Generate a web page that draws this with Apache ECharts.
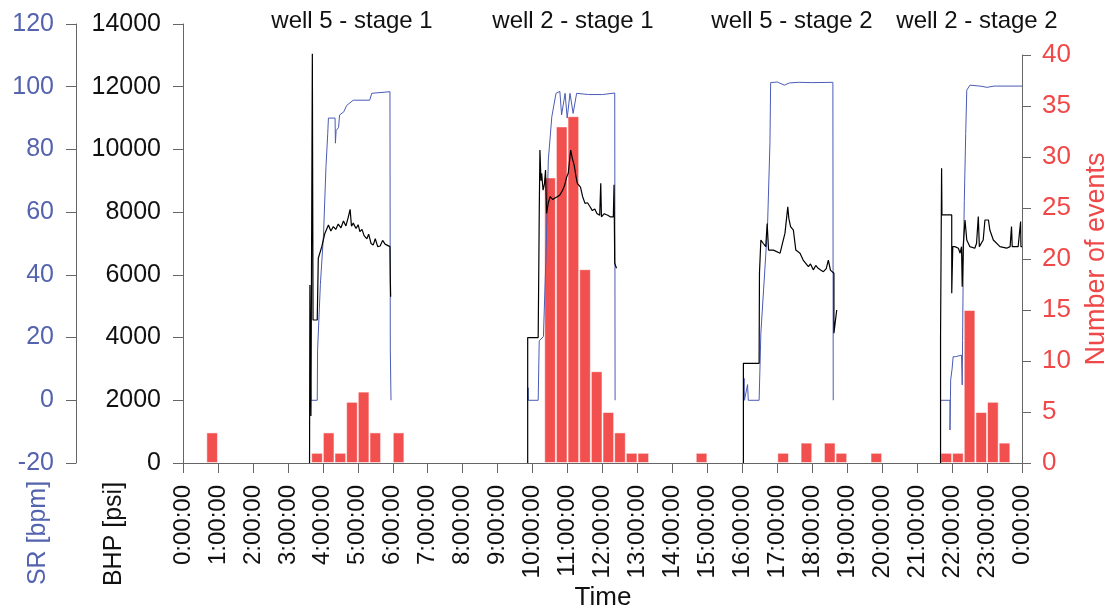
<!DOCTYPE html>
<html>
<head>
<meta charset="utf-8">
<script src="https://cdn.jsdelivr.net/npm/echarts@6.0.0/dist/echarts.min.js"></script>
<style>
  html, body, #main { width: 100%; height: 100%; margin: 0; background: #fff; }
</style>
</head>
<body>
<div id="main"></div>
<script>
// times are hours since 0:00:00
var stageNames = ['well 5 - stage 1', 'well 2 - stage 1', 'well 5 - stage 2', 'well 2 - stage 2'];
var stageTitleX = [352, 573, 792, 977];

// events histogram, 20 min bins, start of bin in minutes
var binStartMin = [40, 220, 240, 260, 280, 300, 320, 360,
  620, 640, 660, 680, 700, 720, 740, 760, 780,
  880, 1020, 1060, 1100, 1120, 1180,
  1300, 1320, 1340, 1360, 1380, 1400];
var eventCounts = [3, 1, 3, 1, 6, 7, 3, 3,
  28, 33, 34, 19, 9, 5, 3, 1, 1,
  1, 1, 2, 2, 1, 1,
  1, 1, 15, 5, 6, 2];

// bottom hole pressure [psi]
var bhpW5S1 = [[3.62,0],[3.63,5680],[3.65,5680],[3.66,1500],[3.69,1500],[3.70,13050],[3.72,4560],[3.84,4560],[3.87,6530],[3.97,6900],[4.06,7330],[4.16,7590],[4.23,7400],[4.30,7540],[4.37,7450],[4.44,7620],[4.52,7500],[4.59,7720],[4.66,7560],[4.73,7850],[4.78,8090],[4.82,7550],[4.87,7650],[4.95,7480],[5.01,7600],[5.06,7380],[5.12,7450],[5.18,7250],[5.26,7150],[5.31,7300],[5.38,7000],[5.44,6950],[5.50,7150],[5.57,6900],[5.64,6920],[5.71,7100],[5.78,6980],[5.83,7000],[5.92,6900],[5.93,5900],[5.94,5300]];
var bhpW2S1 = [[9.86,0],[9.86,4000],[10.16,4000],[10.18,6500],[10.19,7960],[10.21,9980],[10.24,9000],[10.26,9240],[10.30,8700],[10.34,8900],[10.37,9340],[10.40,7960],[10.45,8300],[10.50,8490],[10.58,8400],[10.64,8450],[10.72,8500],[10.78,8550],[10.86,8700],[10.92,8870],[10.97,9100],[11.02,9240],[11.09,9980],[11.14,9700],[11.19,9500],[11.24,9150],[11.28,8920],[11.33,8950],[11.37,8800],[11.43,8500],[11.50,8280],[11.57,8300],[11.64,8180],[11.71,8050],[11.78,8100],[11.84,7960],[11.88,7960],[11.92,7900],[11.95,8920],[11.97,7850],[12.05,7950],[12.15,7900],[12.22,7850],[12.31,7850],[12.33,8870],[12.35,6370],[12.40,6210]];
var bhpW5S2 = [[16.03,0],[16.03,3180],[16.48,3180],[16.49,6050],[16.53,7110],[16.60,7000],[16.67,6900],[16.71,7640],[16.75,6790],[16.89,6790],[17.08,6690],[17.22,7330],[17.30,8170],[17.33,7800],[17.38,7540],[17.46,7430],[17.53,6790],[17.65,6690],[17.74,6470],[17.89,6260],[17.95,6350],[18.03,6160],[18.10,6300],[18.17,6210],[18.25,6150],[18.32,6100],[18.40,6200],[18.46,6470],[18.52,6150],[18.56,6100],[18.62,6050],[18.62,4140],[18.70,4880]];
var bhpW2S2 = [[21.67,0],[21.67,4030],[21.69,4030],[21.70,9400],[21.71,7910],[21.99,7910],[21.99,5410],[22.02,6900],[22.08,6900],[22.18,6850],[22.23,6690],[22.27,6900],[22.29,5620],[22.32,6950],[22.37,7750],[22.42,7110],[22.51,6900],[22.65,6850],[22.70,7010],[22.75,7860],[22.78,6900],[22.89,7110],[22.94,7750],[23.04,7750],[23.08,7430],[23.18,7110],[23.37,6900],[23.56,6850],[23.66,6900],[23.70,7540],[23.72,6900],[23.89,6900],[23.96,7700],[23.97,6900],[24.0,6900]];

// slurry rate [bpm]
var srW5S1 = [[3.64,10],[3.66,0],[3.84,0],[3.85,16],[3.93,37],[4.02,53],[4.09,74.5],[4.14,85],[4.16,90],[4.35,90],[4.36,82],[4.38,86],[4.45,87],[4.48,91],[4.60,92],[4.68,94],[4.87,95.7],[5.34,95.7],[5.40,97.9],[5.92,98.4],[5.93,16],[5.95,0]];
var srW2S1 = [[9.86,0],[9.87,4],[9.88,0],[10.16,0],[10.19,19],[10.31,20.3],[10.38,44.7],[10.45,76.6],[10.55,90.4],[10.67,97.9],[10.78,98.5],[10.83,91],[10.93,97.9],[10.99,90],[11.07,97.9],[11.16,91.5],[11.26,97.9],[11.60,97.5],[12.00,97.5],[12.35,98],[12.36,0]];
var srW5S2 = [[16.03,0],[16.05,7],[16.06,0],[16.15,5],[16.17,0],[16.48,0],[16.53,21.4],[16.72,55.3],[16.79,82],[16.81,101.3],[17.00,101.5],[17.20,100.5],[17.35,101.2],[17.60,101.4],[18.00,101.3],[18.59,101.4],[18.60,0]];
var srW2S2 = [[21.67,0],[21.94,0],[21.94,-9.5],[21.96,6.5],[22.00,10],[22.03,13.9],[22.10,13.9],[22.27,14.4],[22.29,4.9],[22.30,19],[22.32,42.6],[22.35,63.8],[22.39,85.1],[22.42,98.9],[22.51,100.5],[22.80,100.2],[23.00,99.8],[23.20,100.2],[24.00,100.2]];

var FONT = 'Liberation Sans, Arial, sans-serif';
var BLUE_TXT = '#5463ad';
var BLUE_LINE = '#4a5bb5';
var RED = '#f04848';
var AXIS = '#666';

var chart = echarts.init(document.getElementById('main'));

var gridLeft = 183, gridRight = 87;
var barW = (chart.getWidth() - gridLeft - gridRight) / 24 / 3;

var series = [];
series.push({
  type: 'bar',
  xAxisIndex: 1,
  yAxisIndex: 2,
  barWidth: barW,
  z: 1,
  itemStyle: { color: '#f24f4f', borderColor: 'rgba(255,255,255,0.55)', borderWidth: 1 },
  data: binStartMin.map(function (m, i) { return [(m + 10) / 60, eventCounts[i]]; })
});
[srW5S1, srW2S1, srW5S2, srW2S2].forEach(function (d) {
  series.push({
    type: 'line', xAxisIndex: 0, yAxisIndex: 0, data: d, symbol: 'none', z: 3,
    lineStyle: { color: BLUE_LINE, width: 1 }
  });
});
[bhpW5S1, bhpW2S1, bhpW5S2, bhpW2S2].forEach(function (d) {
  series.push({
    type: 'line', xAxisIndex: 0, yAxisIndex: 1, data: d, symbol: 'none', z: 4,
    lineStyle: { color: '#000', width: 1.2 }
  });
});

var graphics = stageNames.map(function (s, i) {
  return {
    type: 'text', x: stageTitleX[i], y: 21,
    style: { text: s, font: '24px ' + FONT, fill: '#111', align: 'center', verticalAlign: 'middle' }
  };
});
graphics.push({
  type: 'text', x: 38, y: 533, rotation: Math.PI / 2,
  style: { text: 'SR [bpm]', font: '25px ' + FONT, fill: BLUE_TXT, align: 'center', verticalAlign: 'middle' }
});
graphics.push({
  type: 'text', x: 114, y: 534, rotation: Math.PI / 2,
  style: { text: 'BHP [psi]', font: '25px ' + FONT, fill: '#111', align: 'center', verticalAlign: 'middle' }
});
graphics.push({
  type: 'text', x: 1097, y: 259, rotation: Math.PI / 2,
  style: { text: 'Number of events', font: '27px ' + FONT, fill: RED, align: 'center', verticalAlign: 'middle' }
});
graphics.push({
  type: 'text', x: 603, y: 598,
  style: { text: 'Time', font: '26px ' + FONT, fill: '#111', align: 'center', verticalAlign: 'middle' }
});

function plain(v) { return String(v); }

var option = {
  animation: false,
  textStyle: { fontFamily: FONT },
  grid: [
    { left: gridLeft, right: gridRight, top: 24, bottom: 148, outerBoundsMode: 'none', containLabel: false },
    { left: gridLeft, right: gridRight, top: 55, bottom: 148, outerBoundsMode: 'none', containLabel: false }
  ],
  xAxis: [{
    type: 'value', gridIndex: 0, min: 0, max: 24, interval: 1,
    axisLine: { onZero: false, lineStyle: { color: AXIS } },
    axisTick: { show: true, length: 10, lineStyle: { color: AXIS } },
    splitLine: { show: false },
    axisLabel: {
      rotate: 90, margin: 22, fontSize: 24, color: '#111',
      formatter: function (v) { return (v % 24) + ':00:00'; }
    }
  }, {
    type: 'value', gridIndex: 1, min: 0, max: 24, show: false,
    axisLine: { onZero: false }
  }],
  yAxis: [{
    type: 'value', gridIndex: 0, position: 'left', offset: 107,
    min: -20, max: 120, interval: 20,
    axisLine: { show: true, onZero: false, lineStyle: { color: AXIS } },
    axisTick: { show: true, length: 10, lineStyle: { color: AXIS } },
    splitLine: { show: false },
    axisLabel: { fontSize: 25, color: BLUE_TXT, margin: 22, formatter: plain }
  }, {
    type: 'value', gridIndex: 0, position: 'left',
    min: 0, max: 14000, interval: 2000,
    axisLine: { show: true, onZero: false, lineStyle: { color: AXIS } },
    axisTick: { show: true, length: 10, lineStyle: { color: AXIS } },
    splitLine: { show: false },
    axisLabel: { fontSize: 25, color: '#111', margin: 22, formatter: plain }
  }, {
    type: 'value', gridIndex: 1, position: 'right',
    min: 0, max: 40, interval: 5,
    axisLine: { show: true, onZero: false, lineStyle: { color: AXIS } },
    axisTick: { show: true, length: 9, lineStyle: { color: AXIS } },
    splitLine: { show: false },
    axisLabel: { fontSize: 26, color: RED, margin: 20, formatter: plain }
  }],
  graphic: graphics,
  series: series
};
chart.setOption(option);
window.onresize = chart.resize;
</script>
</body>
</html>
